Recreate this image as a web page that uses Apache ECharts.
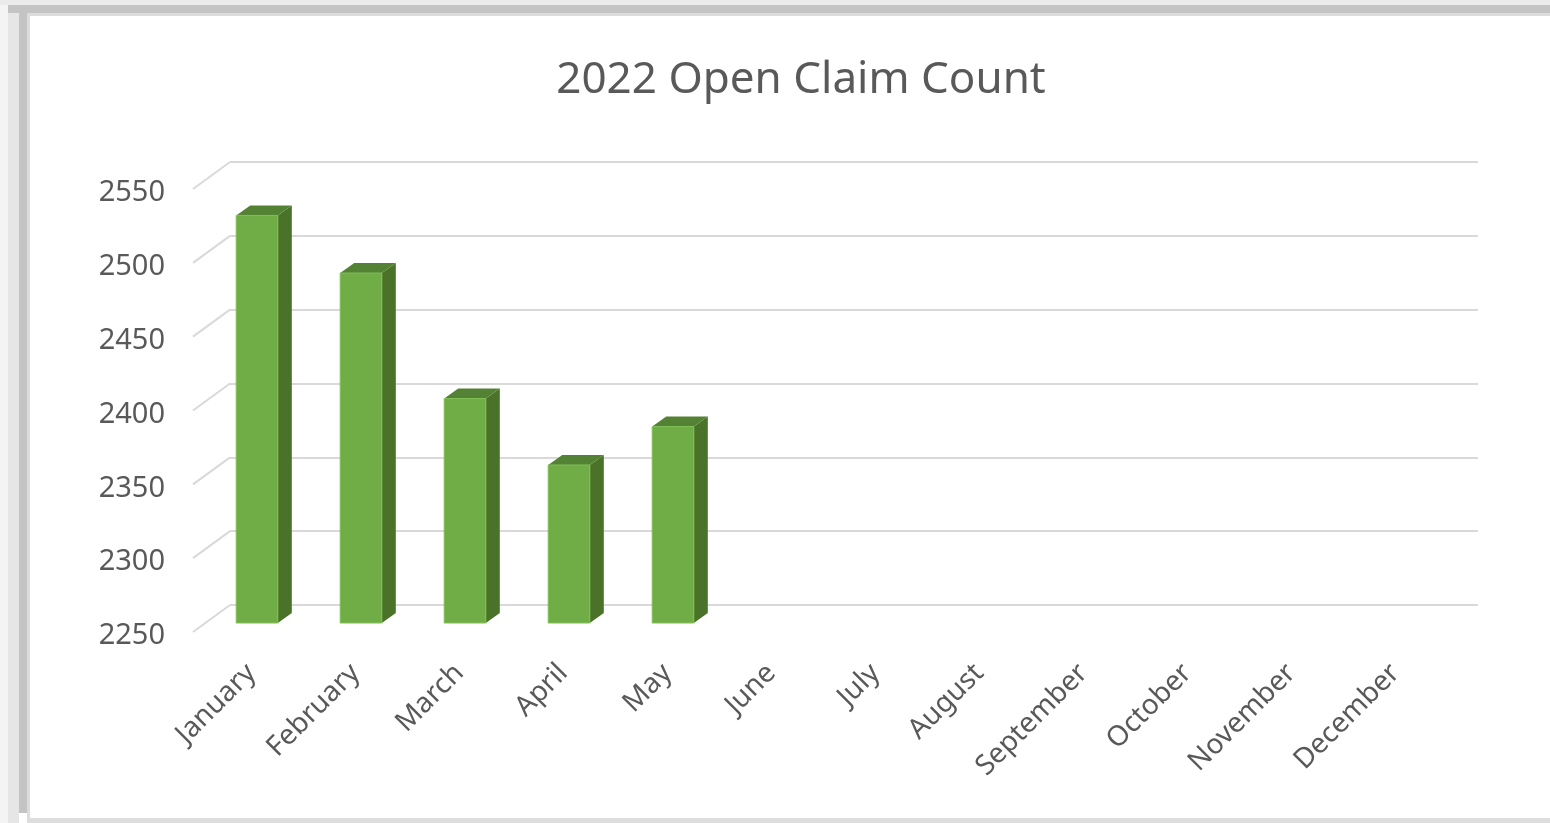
<!DOCTYPE html>
<html>
<head>
<meta charset="utf-8">
<script src="https://cdn.jsdelivr.net/npm/echarts@6/dist/echarts.min.js"></script>
<style>
  html, body { margin: 0; padding: 0; background: #ffffff; width: 1550px; height: 823px; overflow: hidden; }
  .f { position: absolute; }
  #chart { position: absolute; left: 0; top: 0; width: 1550px; height: 823px; }
</style>
</head>
<body>
<div class="f" style="left:0;top:0;width:1550px;height:5px;background:#ebebeb"></div>
<div class="f" style="left:8px;top:5px;width:1542px;height:8px;background:#c4c4c4"></div>
<div class="f" style="left:19px;top:13px;width:1531px;height:3px;background:#dcdcdc"></div>
<div class="f" style="left:0;top:5px;width:8px;height:818px;background:#f4f4f4"></div>
<div class="f" style="left:8px;top:13px;width:11px;height:810px;background:#e6e6e6"></div>
<div class="f" style="left:19px;top:13px;width:8px;height:800px;background:#c4c4c4"></div>
<div class="f" style="left:27px;top:16px;width:3px;height:802px;background:#dcdcdc"></div>
<div class="f" style="left:27px;top:818px;width:1523px;height:5px;background:#dddddd"></div>
<div class="f" style="left:30px;top:16px;width:1520px;height:802px;background:#ffffff"></div>
<div id="chart"></div>
<script>
const titleText = '2022 Open Claim Count';
const months = ['January','February','March','April','May','June','July','August','September','October','November','December'];
const claimCounts = [2526, 2487, 2402, 2357, 2383];
const yMin = 2250, yMax = 2550, yStep = 50;
const yTicks = [2250, 2300, 2350, 2400, 2450, 2500, 2550];

const frontColor = '#70ad47', topColor = '#548235', sideColor = '#4a7229';
const gridColor = '#d9d9d9', labelColor = '#595959';
const FONT = '"Noto Sans", "Open Sans", sans-serif';

const W = 1248, H = 443;
const chart = echarts.init(document.getElementById('chart'), null, { renderer: 'canvas' });

function yAxisBase(gridIndex, showLabel, showSplit) {
  return {
    type: 'value', gridIndex, min: yMin, max: yMax, interval: yStep,
    axisLine: { show: false }, axisTick: { show: false },
    axisLabel: { show: showLabel, color: labelColor, fontFamily: FONT, fontSize: 29, margin: 28,
                 formatter: v => String(v) },
    splitLine: { show: showSplit, lineStyle: { color: gridColor, width: 2 } }
  };
}
function xAxisBase(gridIndex, showLabel) {
  return {
    type: 'category', gridIndex, data: months, boundaryGap: true,
    axisLine: { show: false }, axisTick: { show: false },
    axisLabel: { show: showLabel, interval: 0, rotate: 45, color: labelColor, fontFamily: FONT, fontSize: 28,
                 margin: 40, padding: [0, 8, 0, 0] },
    splitLine: { show: false }
  };
}

const barData = claimCounts.map((v, i) => [i, v]);
const tickData = yTicks.map(v => [0, v]);
const labelShift = 4;

const option = {
  backgroundColor: 'transparent',
  animation: false,
  title: {
    text: titleText, left: 796, top: 53, textAlign: 'center',
    textStyle: { color: labelColor, fontFamily: FONT, fontSize: 44, fontWeight: 'normal' }
  },
  grid: [
    { left: 193, top: 189 + labelShift, width: W, height: H },  // front plane (y labels)
    { left: 230, top: 162, width: W, height: H },  // back wall (gridlines)
    { left: 205, top: 180, width: W, height: H }   // bar plane
  ],
  xAxis: [xAxisBase(0, false), xAxisBase(1, false), xAxisBase(2, true)],
  yAxis: [yAxisBase(0, true, false), yAxisBase(1, false, true), yAxisBase(2, false, false)],
  series: [
    {
      type: 'custom', xAxisIndex: 0, yAxisIndex: 0, data: tickData, silent: true,
      renderItem: function (params, api) {
        const p = api.coord([0, api.value(1)]);
        const x0 = params.coordSys.x;
        const y0 = p[1] - labelShift;
        return { type: 'line', shape: { x1: x0, y1: y0, x2: x0 + 37, y2: y0 - 27 },
                 style: { stroke: gridColor, lineWidth: 2 } };
      }
    },
    {
      type: 'custom', xAxisIndex: 2, yAxisIndex: 2, data: barData, silent: true,
      renderItem: function (params, api) {
        const idx = api.value(0), v = api.value(1);
        const top = api.coord([idx, v]);
        const bot = api.coord([idx, yMin]);
        const bw = api.size([1, 0])[0] * 0.4;
        const x0 = top[0] - bw / 2, x1 = top[0] + bw / 2;
        const dx = 14, dy = -10;
        return {
          type: 'group',
          children: [
            { type: 'polygon', shape: { points: [[x1, top[1]], [x1 + dx, top[1] + dy], [x1 + dx, bot[1] + dy], [x1, bot[1]]] },
              style: { fill: sideColor } },
            { type: 'polygon', shape: { points: [[x0, top[1]], [x0 + dx, top[1] + dy], [x1 + dx, top[1] + dy], [x1, top[1]]] },
              style: { fill: topColor } },
            { type: 'rect', shape: { x: x0, y: top[1], width: bw, height: bot[1] - top[1] },
              style: { fill: frontColor, stroke: '#7fbf55', lineWidth: 1 } }
          ]
        };
      }
    }
  ]
};
chart.setOption(option);
</script>
</body>
</html>
